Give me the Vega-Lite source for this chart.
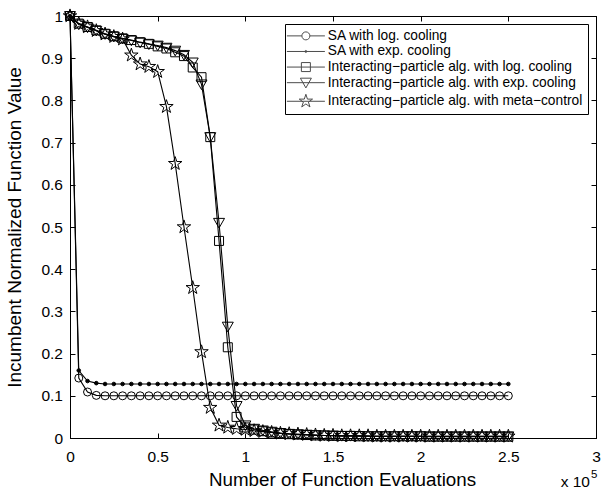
{
  "$schema": "https://vega.github.io/schema/vega-lite/v6.json",
  "width": 526,
  "height": 422,
  "autosize": "none",
  "padding": {"left": 70, "top": 16, "right": 8, "bottom": 53},
  "background": "white",
  "config": {
    "font": "Liberation Sans",
    "view": {"stroke": "black", "strokeWidth": 1},
    "axis": {
      "grid": false,
      "domainColor": "black",
      "tickColor": "black",
      "labelColor": "black",
      "titleColor": "black",
      "labelFont": "Liberation Sans",
      "titleFont": "Liberation Sans",
      "titleFontWeight": "normal",
      "labelFlush": false,
      "labelOverlap": false
    }
  },
  "data": {
    "values": [
      {"x": 0, "a": 1, "b": 1, "c": 1, "d": 1, "e": 1},
      {"x": 5000, "a": 0.142, "b": 0.16, "c": 0.982, "d": 0.98, "e": 0.982},
      {"x": 10000, "a": 0.109, "b": 0.135, "c": 0.974, "d": 0.973, "e": 0.974},
      {"x": 15000, "a": 0.101, "b": 0.13, "c": 0.966, "d": 0.965, "e": 0.965},
      {"x": 20000, "a": 0.1, "b": 0.128, "c": 0.958, "d": 0.957, "e": 0.957},
      {"x": 25000, "a": 0.1, "b": 0.128, "c": 0.952, "d": 0.951, "e": 0.951},
      {"x": 30000, "a": 0.1, "b": 0.128, "c": 0.947, "d": 0.946, "e": 0.945},
      {"x": 35000, "a": 0.1, "b": 0.128, "c": 0.943, "d": 0.942, "e": 0.907},
      {"x": 40000, "a": 0.1, "b": 0.128, "c": 0.938, "d": 0.937, "e": 0.886},
      {"x": 45000, "a": 0.1, "b": 0.128, "c": 0.934, "d": 0.933, "e": 0.88},
      {"x": 50000, "a": 0.1, "b": 0.128, "c": 0.928, "d": 0.93, "e": 0.868},
      {"x": 55000, "a": 0.1, "b": 0.128, "c": 0.923, "d": 0.925, "e": 0.785},
      {"x": 60000, "a": 0.1, "b": 0.128, "c": 0.914, "d": 0.918, "e": 0.65},
      {"x": 65000, "a": 0.1, "b": 0.128, "c": 0.905, "d": 0.908, "e": 0.5},
      {"x": 70000, "a": 0.1, "b": 0.128, "c": 0.878, "d": 0.89, "e": 0.356},
      {"x": 75000, "a": 0.1, "b": 0.128, "c": 0.855, "d": 0.838, "e": 0.204},
      {"x": 80000, "a": 0.1, "b": 0.128, "c": 0.713, "d": 0.713, "e": 0.072},
      {"x": 85000, "a": 0.1, "b": 0.128, "c": 0.467, "d": 0.51, "e": 0.03},
      {"x": 90000, "a": 0.1, "b": 0.128, "c": 0.215, "d": 0.264, "e": 0.025},
      {"x": 95000, "a": 0.1, "b": 0.128, "c": 0.05, "d": 0.076, "e": 0.022},
      {"x": 100000, "a": 0.1, "b": 0.128, "c": 0.025, "d": 0.03, "e": 0.02},
      {"x": 105000, "a": 0.1, "b": 0.128, "c": 0.02, "d": 0.022, "e": 0.017},
      {"x": 110000, "a": 0.1, "b": 0.128, "c": 0.016, "d": 0.018, "e": 0.015},
      {"x": 115000, "a": 0.1, "b": 0.128, "c": 0.013, "d": 0.015, "e": 0.013},
      {"x": 120000, "a": 0.1, "b": 0.128, "c": 0.011, "d": 0.012, "e": 0.011},
      {"x": 125000, "a": 0.1, "b": 0.128, "c": 0.009, "d": 0.01, "e": 0.01},
      {"x": 130000, "a": 0.1, "b": 0.128, "c": 0.008, "d": 0.009, "e": 0.009},
      {"x": 135000, "a": 0.1, "b": 0.128, "c": 0.007, "d": 0.008, "e": 0.008},
      {"x": 140000, "a": 0.1, "b": 0.128, "c": 0.006, "d": 0.007, "e": 0.007},
      {"x": 145000, "a": 0.1, "b": 0.128, "c": 0.006, "d": 0.006, "e": 0.006},
      {"x": 150000, "a": 0.1, "b": 0.128, "c": 0.005, "d": 0.006, "e": 0.006},
      {"x": 155000, "a": 0.1, "b": 0.128, "c": 0.005, "d": 0.005, "e": 0.005},
      {"x": 160000, "a": 0.1, "b": 0.128, "c": 0.005, "d": 0.005, "e": 0.005},
      {"x": 165000, "a": 0.1, "b": 0.128, "c": 0.004, "d": 0.005, "e": 0.005},
      {"x": 170000, "a": 0.1, "b": 0.128, "c": 0.004, "d": 0.004, "e": 0.005},
      {"x": 175000, "a": 0.1, "b": 0.128, "c": 0.004, "d": 0.004, "e": 0.004},
      {"x": 180000, "a": 0.1, "b": 0.128, "c": 0.004, "d": 0.004, "e": 0.004},
      {"x": 185000, "a": 0.1, "b": 0.128, "c": 0.004, "d": 0.004, "e": 0.004},
      {"x": 190000, "a": 0.1, "b": 0.128, "c": 0.004, "d": 0.004, "e": 0.004},
      {"x": 195000, "a": 0.1, "b": 0.128, "c": 0.004, "d": 0.004, "e": 0.004},
      {"x": 200000, "a": 0.1, "b": 0.128, "c": 0.004, "d": 0.004, "e": 0.004},
      {"x": 205000, "a": 0.1, "b": 0.128, "c": 0.003, "d": 0.004, "e": 0.004},
      {"x": 210000, "a": 0.1, "b": 0.128, "c": 0.003, "d": 0.004, "e": 0.004},
      {"x": 215000, "a": 0.1, "b": 0.128, "c": 0.003, "d": 0.004, "e": 0.004},
      {"x": 220000, "a": 0.1, "b": 0.128, "c": 0.003, "d": 0.004, "e": 0.004},
      {"x": 225000, "a": 0.1, "b": 0.128, "c": 0.003, "d": 0.004, "e": 0.004},
      {"x": 230000, "a": 0.1, "b": 0.128, "c": 0.003, "d": 0.004, "e": 0.004},
      {"x": 235000, "a": 0.1, "b": 0.128, "c": 0.003, "d": 0.004, "e": 0.004},
      {"x": 240000, "a": 0.1, "b": 0.128, "c": 0.003, "d": 0.004, "e": 0.004},
      {"x": 245000, "a": 0.1, "b": 0.128, "c": 0.003, "d": 0.004, "e": 0.004},
      {"x": 250000, "a": 0.1, "b": 0.128, "c": 0.003, "d": 0.004, "e": 0.004}
    ]
  },
  "transform": [{"fold": ["a", "b", "c", "d", "e"], "as": ["series", "value"]}],
  "layer": [
    {
      "mark": {"type": "line", "color": "black", "strokeWidth": 1.1},
      "encoding": {
        "x": {
          "field": "x", "type": "quantitative",
          "scale": {"domain": [0, 300000]},
          "axis": {
            "orient": "bottom",
            "values": [0, 50000, 100000, 150000, 200000, 250000, 300000],
            "labelExpr": "format(datum.value / 100000, '~g')",
            "tickSize": -5, "labelPadding": 16, "labelFontSize": 15.5,
            "title": "Number of Function Evaluations", "titleFontSize": 18.8,
            "titlePadding": 6, "titleX": 272
          }
        },
        "y": {
          "field": "value", "type": "quantitative",
          "scale": {"domain": [0, 1]},
          "axis": {
            "orient": "left",
            "values": [0, 0.1, 0.2, 0.3, 0.4, 0.5, 0.6, 0.7, 0.8, 0.9, 1],
            "labelExpr": "format(datum.value, '~g')",
            "tickSize": -5, "labelPadding": 12.5, "labelFontSize": 15.5,
            "title": "Incumbent Normalized Function Value", "titleFontSize": 19,
            "titlePadding": 16
          }
        },
        "detail": {"field": "series"}
      }
    },
    {
      "mark": {"type": "point", "filled": false, "color": "black", "strokeWidth": 1, "opacity": 1},
      "encoding": {
        "x": {"field": "x", "type": "quantitative", "axis": null},
        "y": {"field": "value", "type": "quantitative", "axis": null},
        "shape": {
          "field": "series",
          "scale": {
            "domain": ["a", "b", "c", "d", "e"],
            "range": [
              "circle",
              "circle",
              "square",
              "M-1,-0.8L1,-0.8L0,0.95Z",
              "M0,-1L0.2245,-0.309L0.951,-0.309L0.363,0.118L0.588,0.809L0,0.382L-0.588,0.809L-0.363,0.118L-0.951,-0.309L-0.2245,-0.309Z"
            ]
          },
          "legend": null
        },
        "size": {
          "field": "series",
          "scale": {"type": "ordinal", "domain": ["a", "b", "c", "d", "e"], "range": [64, 13, 81, 121, 200]},
          "legend": null
        },
        "fill": {
          "field": "series",
          "scale": {"type": "ordinal", "domain": ["a", "b", "c", "d", "e"], "range": ["transparent", "black", "transparent", "transparent", "transparent"]},
          "legend": null
        }
      }
    },
    {
      "transform": [{"filter": "false"}],
      "mark": {"type": "point", "filled": false, "color": "black", "strokeWidth": 1},
      "encoding": {
        "x": {"field": "x", "type": "quantitative", "axis": null},
        "y": {"field": "value", "type": "quantitative", "axis": null},
        "shape": {
          "field": "series",
          "scale": {
            "domain": ["a", "b", "c", "d", "e"],
            "range": [
              "M-3.8,0L-0.8,0M0.8,0L3.8,0M0.8,0A0.8,0.8,0,1,1,-0.8,0A0.8,0.8,0,1,1,0.8,0Z",
              "M-3.8,0L3.8,0M0.2,0A0.2,0.2,0,1,1,-0.2,0A0.2,0.2,0,1,1,0.2,0Z",
              "M-3.8,0L3.8,0M-0.9,-0.9L0.9,-0.9L0.9,0.9L-0.9,0.9Z",
              "M-3.8,0L3.8,0M-1.1,-0.9L1.1,-0.9L0,1.05Z",
              "M-3.8,0L3.8,0M0,-1.4L0.314,-0.433L1.331,-0.433L0.508,0.165L0.823,1.133L0,0.535L-0.823,1.133L-0.508,0.165L-1.331,-0.433L-0.314,-0.433Z"
            ]
          },
          "legend": {
            "orient": "top-right",
            "offset": 8,
            "title": null,
            "padding": 5,
            "strokeColor": "black",
            "fillColor": "white",
            "symbolSize": 100,
            "symbolOffset": 9,
            "symbolStrokeWidth": 1,
            "symbolStrokeColor": "black",
            "symbolFillColor": "transparent",
            "labelFont": "Liberation Sans",
            "labelFontSize": 13.75,
            "labelColor": "black",
            "labelOffset": 15,
            "labelLimit": 400,
            "rowPadding": 0.6,
            "labelExpr": "datum.value == 'a' ? 'SA with log. cooling' : datum.value == 'b' ? 'SA with exp. cooling' : datum.value == 'c' ? 'Interacting−particle alg. with log. cooling' : datum.value == 'd' ? 'Interacting−particle alg. with exp. cooling' : 'Interacting−particle alg. with meta−control'"
          }
        }
      }
    },
    {
      "data": {"values": [{"t": "x 10"}]},
      "mark": {"type": "text", "align": "right", "baseline": "alphabetic", "fontSize": 15.5, "font": "Liberation Sans", "color": "black", "dx": -6, "dy": 49},
      "encoding": {
        "x": {
          "datum": 300000, "type": "quantitative",
          "axis": {"orient": "top", "values": [0, 50000, 100000, 150000, 200000, 250000, 300000], "labels": false, "tickSize": -5, "title": null}
        },
        "y": {
          "datum": 0, "type": "quantitative",
          "axis": {"orient": "right", "values": [0, 0.1, 0.2, 0.3, 0.4, 0.5, 0.6, 0.7, 0.8, 0.9, 1], "labels": false, "tickSize": -5, "title": null}
        },
        "text": {"field": "t"}
      }
    },
    {
      "data": {"values": [{"t": "5"}]},
      "mark": {"type": "text", "align": "left", "baseline": "alphabetic", "fontSize": 11.5, "font": "Liberation Sans", "color": "black", "dx": -5, "dy": 40},
      "encoding": {
        "x": {"datum": 300000, "type": "quantitative", "axis": null},
        "y": {"datum": 0, "type": "quantitative", "axis": null},
        "text": {"field": "t"}
      }
    }
  ],
  "resolve": {
    "scale": {"shape": "independent", "size": "independent", "fill": "independent"},
    "axis": {"x": "independent", "y": "independent"}
  }
}
